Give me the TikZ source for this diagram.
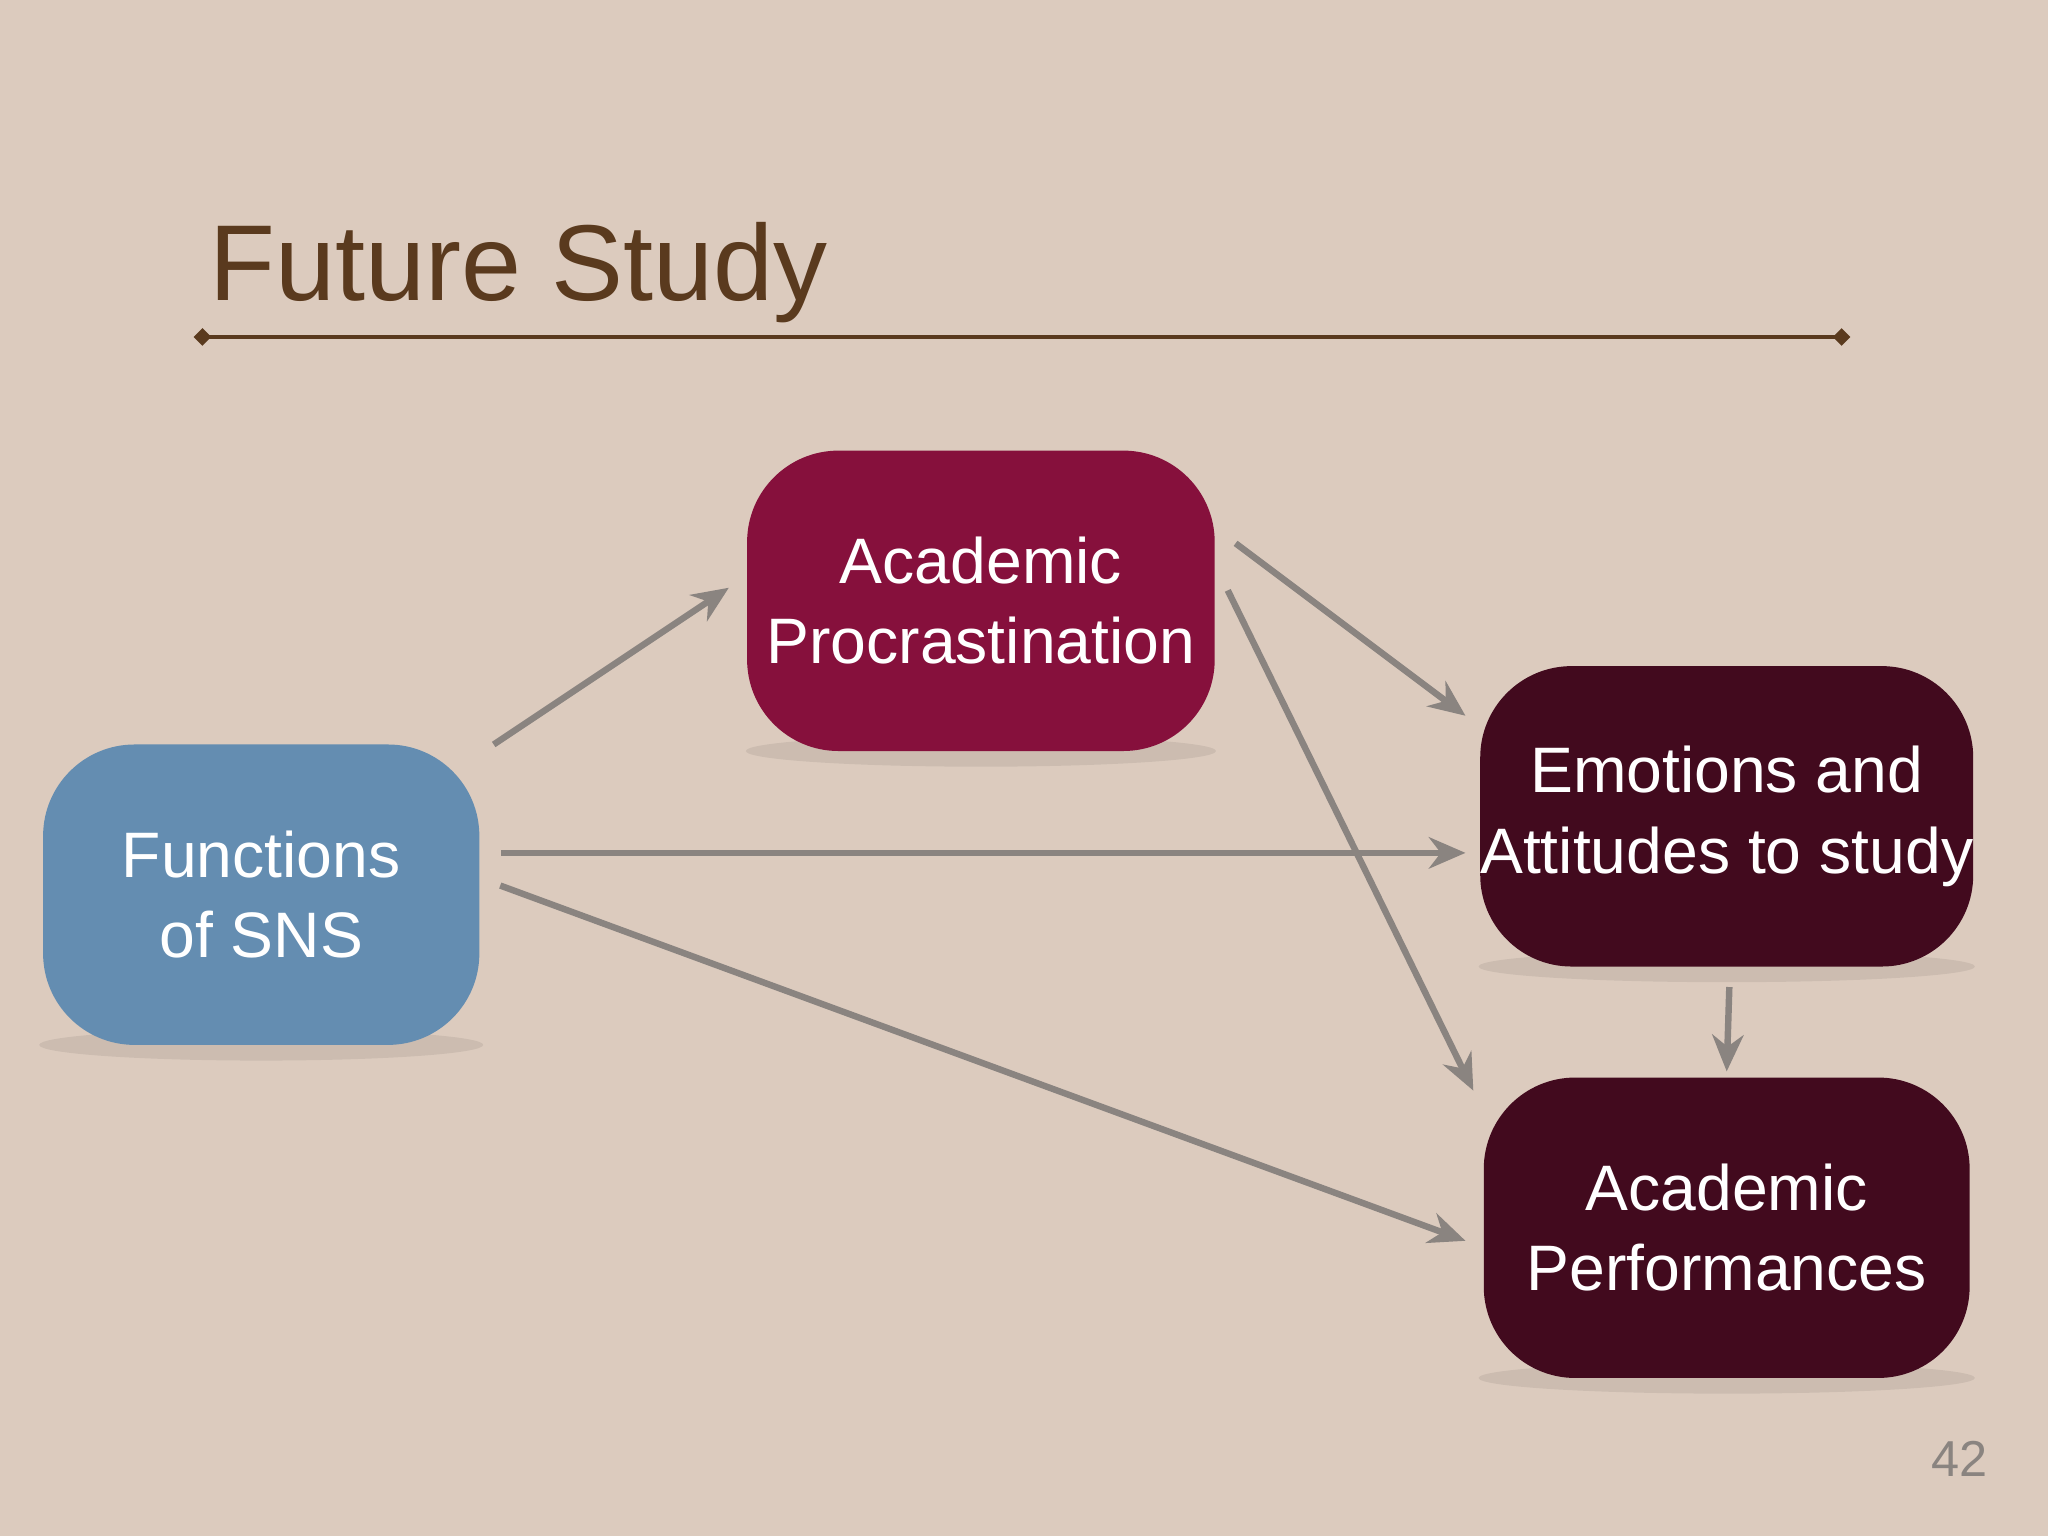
\documentclass[tikz,border=0pt]{standalone}
\usepackage{fontspec}
\setmainfont{Liberation Sans}
\usetikzlibrary{arrows.meta,shapes.geometric}
\definecolor{bg}{HTML}{DCCBBE}
\definecolor{ttl}{HTML}{5A3A1E}
\definecolor{sns}{HTML}{648DB1}
\definecolor{proc}{HTML}{86103C}
\definecolor{dark}{HTML}{420A1E}
\definecolor{arr}{HTML}{8A8480}
\tikzset{
 box/.style={rounded corners=0.7cm, minimum width=#1, minimum height=2.3cm, text=white, align=center, font=\fontsize{14}{17.5}\selectfont, inner sep=0pt},
 conn/.style={draw=arr, line width=1.4pt, -{Stealth[length=0.28cm,width=0.24cm]}},
 shad/.style={fill=black, opacity=0.07}
}
\begin{document}
\begin{tikzpicture}
\fill[bg] (0,0) rectangle (15.68,-11.76);
\useasboundingbox (0,0) rectangle (15.68,-11.76);
\node[anchor=base west, text=ttl, font=\fontsize{23.5}{28}\selectfont, inner sep=0pt] (title) at (1.6,-2.3) {Future Study};
\coordinate (la) at (1.55,-2.58);
\coordinate (lb) at (14.1,-2.58);
\draw[ttl, line width=0.8pt] (la) -- (lb);
\node[diamond, fill=ttl, inner sep=1pt] at (la) {};
\node[diamond, fill=ttl, inner sep=1pt] at (lb) {};
% shadows
\fill[shad] (2.0,-8.0) ellipse (1.7cm and 0.12cm);
\fill[shad] (7.51,-5.75) ellipse (1.8cm and 0.12cm);
\fill[shad] (13.22,-7.40) ellipse (1.9cm and 0.12cm);
\fill[shad] (13.22,-10.55) ellipse (1.9cm and 0.12cm);
\node[box=3.34cm, fill=sns] (f) at (2.0,-6.85) {Functions\\of SNS};
\node[box=3.58cm, fill=proc] (p) at (7.51,-4.60) {Academic\\Procrastination};
\node[box=3.72cm, fill=dark] (e) at (13.22,-6.25) {Emotions and\\Attitudes to study};
\node[box=3.72cm, fill=dark] (a) at (13.22,-9.40) {Academic\\Performances};
\draw[conn] (3.78,-5.70) -- (5.58,-4.50);
\draw[conn] ([xshift=0.16cm]f.east |- 0,-6.53) -- (11.22,-6.53);
\draw[conn] (3.83,-6.78) -- (11.22,-9.50);
\draw[conn] (9.46,-4.16) -- (11.22,-5.48);
\draw[conn] (9.40,-4.52) -- (11.28,-8.35);
\draw[conn] (e.south) ++(0.02,-0.15) -- ([yshift=0.04cm]a.north);
\node[text=arr, font=\fontsize{11}{13}\selectfont] (num) at (15.0,-11.17) {42};
\end{tikzpicture}
\end{document}
